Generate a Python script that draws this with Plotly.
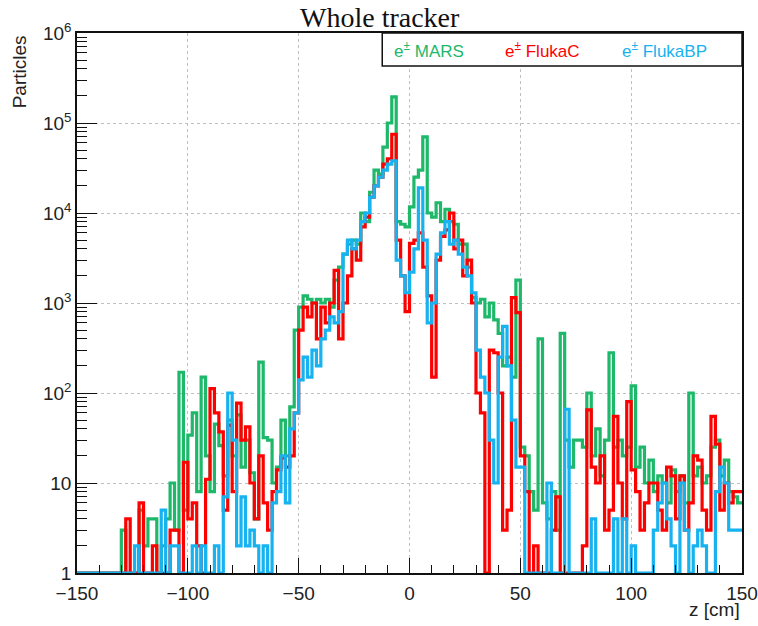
import numpy as np
import plotly.graph_objects as go

# 2 cm bins from -150 to 150 cm (left edges -150, -148, ..., 148)
z_edges = list(range(-150, 151, 2))

mars = [
    1, 1, 1, 1, 1, 1, 1, 1, 1, 1,
    3, 1, 1, 1, 5, 2, 4, 4, 1, 2,
    4, 10, 3, 170, 5, 34, 60, 8, 150, 20,
    8, 45, 26, 12, 50, 20, 57, 15, 30, 13,
    4, 220, 32, 30, 10, 15, 50, 20, 70, 500,
    900, 1200, 1100, 1000, 1100, 1000, 1100, 900, 1800, 2500,
    3500, 4500, 5000, 4500, 10000, 8000, 17000, 30000, 27000, 54000,
    100000, 195000, 8000, 7500, 7000, 11700, 25000, 30000, 70000, 10000,
    9000, 13000, 8000, 11000, 8000, 7500, 4500, 4500, 2500, 1150,
    1000, 1100, 700, 1000, 650, 460, 200, 250, 150, 1800,
    25, 20, 8, 5, 400, 6, 4, 8, 3, 460,
    30, 15, 30, 30, 25, 100, 20, 40, 12, 30,
    280, 25, 30, 20, 25, 120, 15, 25, 10, 18,
    8, 12, 10, 6, 14, 8, 12, 6, 100, 12,
    15, 10, 12, 25, 30, 12, 18, 8, 7, 6,
]

fluka_c = [
    1, 1, 1, 1, 1, 1, 1, 1, 1, 1,
    1, 4, 1, 1, 6, 1, 1, 2, 1, 1,
    1, 3, 3, 1, 17, 4, 6, 2, 1, 11,
    112, 60, 37, 5, 44, 8, 77, 30, 42, 10,
    4, 20, 6, 3, 8, 14, 19, 15, 20, 60,
    500, 900, 700, 1000, 400, 900, 600, 1000, 2300, 400,
    1000, 2000, 4000, 3000, 7000, 9000, 15000, 20000, 25000, 35000,
    40000, 75000, 5000, 2000, 800, 4600, 5000, 6000, 2500, 1200,
    150, 3000, 5500, 6500, 10000, 4000, 5000, 2000, 3000, 1000,
    100, 60, 1, 300, 280, 100, 3, 5, 1150, 780,
    20, 8, 1, 2, 1, 1, 1, 3, 7, 1,
    1, 1, 1, 1, 2, 65, 15, 10, 20, 3,
    5, 55, 10, 4, 80, 14, 8, 3, 6, 10,
    10, 5, 3, 15, 12, 4, 12, 3, 6, 20,
    18, 5, 3, 55, 27, 5, 10, 6, 8, 8,
]

fluka_bp = [
    1, 1, 1, 1, 1, 1, 1, 1, 1, 1,
    1, 1, 1, 2, 1, 1, 1, 1, 1, 5,
    1, 2, 2, 1, 1, 1, 2, 1, 2, 1,
    1, 2, 1, 7, 100, 30, 2, 7, 2, 3,
    2, 1, 2, 1, 6, 8, 20, 6, 40, 60,
    140, 250, 150, 300, 200, 400, 500, 700, 600, 800,
    3500, 5000, 4000, 5000, 8000, 10000, 15000, 20000, 25000, 30000,
    35000, 38000, 3000, 2000, 1300, 2200, 4000, 19000, 5000, 600,
    1000, 3500, 6000, 8000, 4500, 5000, 3500, 2500, 2000, 1300,
    300, 150, 100, 30, 10, 250, 550, 200, 50, 15,
    15, 1, 1, 1, 1, 1, 10, 1, 1, 1,
    66, 1, 1, 1, 1, 1, 4, 1, 1, 1,
    1, 4, 1, 4, 1, 2, 1, 1, 1, 1,
    3, 6, 10, 4, 2, 1, 10, 3, 1, 2,
    3, 2, 1, 1, 8, 15, 10, 3, 3, 3,
]

series_names = ["MARS", "FlukaC", "FlukaBP"]
series_colors = ["#1db86a", "#ff0000", "#17b2f0"]
series_values = [mars, fluka_c, fluka_bp]

y_tickvals = [1, 10, 100, 1000, 10000, 100000, 1000000]
y_ticktext = ["1", "10", "10<sup>2</sup>", "10<sup>3</sup>", "10<sup>4</sup>",
              "10<sup>5</sup>", "10<sup>6</sup>"]
x_tickvals = [-150, -100, -50, 0, 50, 100, 150]
x_ticktext = ["\u2212150", "\u2212100", "\u221250", "0", "50", "100", "150"]

fig = go.Figure()
for name, color, vals in zip(series_names, series_colors, series_values):
    fig.add_trace(go.Scatter(
        x=z_edges, y=list(vals) + [vals[-1]],
        mode="lines", line=dict(color=color, width=3.2, shape="hv"),
        name=name, showlegend=False,
    ))

sans = "Liberation Sans, Arial, sans-serif"
tick_font = dict(family=sans, size=19, color="#222")

fig.update_layout(
    width=758, height=626,
    margin=dict(l=77, r=16, t=33, b=53, autoexpand=False),
    paper_bgcolor="white", plot_bgcolor="white",
    xaxis=dict(
        range=[-150, 150], tickvals=x_tickvals, ticktext=x_ticktext,
        ticks="inside", ticklen=15, tickwidth=1, tickcolor="#111",
        minor=dict(dtick=10, ticks="inside", ticklen=8, tickcolor="#111", showgrid=False),
        showgrid=True, gridcolor="#c0c0c0", griddash="dot", gridwidth=1,
        showline=True, linecolor="#111", linewidth=1.5, mirror=True,
        tickfont=tick_font, zeroline=False, automargin=False, ticklabelstandoff=2,
    ),
    yaxis=dict(
        type="log", range=[0, 6], tickvals=y_tickvals, ticktext=y_ticktext,
        ticks="inside", ticklen=20, tickwidth=1, tickcolor="#111",
        minor=dict(dtick="D1", ticks="inside", ticklen=10, tickcolor="#111", showgrid=False),
        showgrid=True, gridcolor="#c0c0c0", griddash="dot", gridwidth=1,
        showline=True, linecolor="#111", linewidth=1.5, mirror=True,
        tickfont=tick_font, zeroline=False, automargin=False,
    ),
    showlegend=False,
)

# Title
fig.add_annotation(text="Whole tracker", x=0.456, y=1, xref="paper", yref="paper",
                   xanchor="center", yanchor="bottom", yshift=-2, showarrow=False,
                   font=dict(family="Liberation Serif, Times New Roman, serif", size=28, color="#111"))
# Axis titles
fig.add_annotation(text="Particles", x=-0.086, y=1, xref="paper", yref="paper",
                   xanchor="center", yanchor="top", showarrow=False, textangle=-90,
                   yshift=0, font=dict(family=sans, size=19, color="#222"))
fig.add_annotation(text="z [cm]", x=1, y=0, xref="paper", yref="paper",
                   xanchor="right", yanchor="top", yshift=-24, showarrow=False,
                   font=dict(family=sans, size=19, color="#222"))

# Legend box
fig.add_shape(type="rect", xref="x", yref="paper", x0=-12.3, x1=150, y0=0.9389, y1=1.0,
              line=dict(color="#111", width=1.5), fillcolor="white", layer="above")
legend_x = [-8, 42, 95]
for lx, name, color in zip(legend_x, series_names, series_colors):
    fig.add_annotation(text="e<sup>\u00b1</sup> " + name, x=lx, y=0.969, xref="x", yref="paper",
                       xanchor="left", yanchor="middle", showarrow=False,
                       font=dict(family=sans, size=17, color=color))

fig.write_html("out.html",
               config={"displayModeBar": False},
               post_script="document.body.style.margin='0';document.body.style.padding='0';"
                           "document.documentElement.style.overflow='hidden';")
